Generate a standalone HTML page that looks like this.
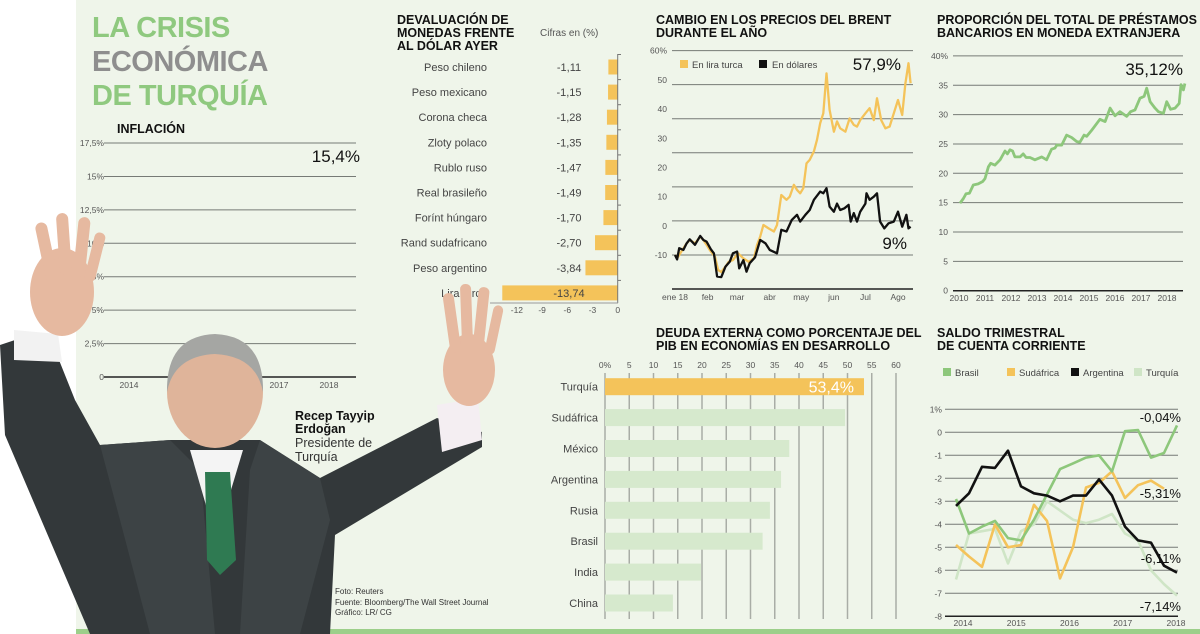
<!DOCTYPE html>
<html><head><meta charset="utf-8"><style>
html,body{margin:0;padding:0;width:1200px;height:634px;overflow:hidden;background:#fff}
svg{display:block;font-family:"Liberation Sans",sans-serif}
.t{font-weight:bold;font-size:12.5px;fill:#111}
.tk{font-size:8.5px;fill:#555}
.lb{font-size:11px;fill:#444}
</style></head><body>
<svg id="s" width="1200" height="634" viewBox="0 0 1200 634" xmlns="http://www.w3.org/2000/svg">
<rect x="76" y="0" width="1124" height="634" fill="#eff5ea"/>
<rect x="76" y="629" width="1124" height="5" fill="#9ccf8a"/>
<g font-weight="bold" font-size="29" letter-spacing="-0.5">
<text x="92" y="37" fill="#8fc97f">LA CRISIS</text>
<text x="92" y="71" fill="#8e8e8e">ECONÓMICA</text>
<text x="92" y="105" fill="#8fc97f">DE TURQUÍA</text>
</g>
<text class="t" x="117" y="133">INFLACIÓN</text>
<g class="t"><text x="397" y="24">DEVALUACIÓN DE</text><text x="397" y="37">MONEDAS FRENTE</text><text x="397" y="50">AL DÓLAR AYER</text></g>
<text x="540" y="36" font-size="10" fill="#555">Cifras en (%)</text>
<g class="t"><text x="656" y="24">CAMBIO EN LOS PRECIOS DEL BRENT</text><text x="656" y="37">DURANTE EL AÑO</text></g>
<g class="t"><text x="937" y="24">PROPORCIÓN DEL TOTAL DE PRÉSTAMOS</text><text x="937" y="37">BANCARIOS EN MONEDA EXTRANJERA</text></g>
<g class="t"><text x="656" y="337">DEUDA EXTERNA COMO PORCENTAJE DEL</text><text x="656" y="350">PIB EN ECONOMÍAS EN DESARROLLO</text></g>
<g class="t"><text x="937" y="337">SALDO TRIMESTRAL</text><text x="937" y="350">DE CUENTA CORRIENTE</text></g>
<g id="charts"></g>
<g id="photo">
<polygon points="0,345 15,340 55,350 75,400 100,445 170,440 260,440 320,478 437,418 482,432 482,447 335,535 330,634 90,634 5,435" fill="#33383a"/>
<polygon points="100,445 170,440 200,470 215,634 150,634 120,520" fill="#3d4345"/>
<polygon points="260,440 320,478 330,520 300,634 240,634 250,470" fill="#3d4345"/>
<polygon points="14,330 58,334 62,362 14,360" fill="#f2f2f2"/>
<polygon points="437,405 478,398 482,440 442,452" fill="#f4eef2"/>
<ellipse cx="62" cy="292" rx="32" ry="44" fill="#e6b9a0"/>
<rect x="40" y="222" width="12" height="62" rx="6" fill="#e6b9a0" transform="rotate(-12 46 250)"/>
<rect x="58" y="213" width="12" height="62" rx="6" fill="#e6b9a0" transform="rotate(-4 64 245)"/>
<rect x="76" y="217" width="12" height="60" rx="6" fill="#e6b9a0" transform="rotate(6 82 245)"/>
<rect x="90" y="232" width="11" height="50" rx="5" fill="#e6b9a0" transform="rotate(14 95 255)"/>
<ellipse cx="469" cy="370" rx="26" ry="36" fill="#e6b9a0"/>
<rect x="446" y="293" width="11" height="60" rx="5" fill="#e6b9a0" transform="rotate(-8 451 320)"/>
<rect x="461" y="284" width="11" height="62" rx="5" fill="#e6b9a0" transform="rotate(-2 466 315)"/>
<rect x="476" y="287" width="11" height="60" rx="5" fill="#e6b9a0" transform="rotate(6 481 315)"/>
<rect x="489" y="305" width="10" height="50" rx="5" fill="#e6b9a0" transform="rotate(12 494 330)"/>
<polygon points="190,450 216,540 243,450" fill="#f4f4f4"/>
<polygon points="205,472 230,472 236,560 220,575 207,560" fill="#2f7a52"/>
<ellipse cx="215" cy="392" rx="48" ry="56" fill="#dfb49a"/>
<path d="M167,392 Q166,336 215,334 Q264,336 263,392 Q256,356 215,354 Q174,356 167,392Z" fill="#a5a6a3"/>
</g>
<g>
<text x="295" y="420" font-weight="bold" font-size="12.5" fill="#111">Recep Tayyip</text>
<text x="295" y="433" font-weight="bold" font-size="12.5" fill="#111">Erdoğan</text>
<text x="295" y="447" font-size="12.5" fill="#333">Presidente de</text>
<text x="295" y="461" font-size="12.5" fill="#333">Turquía</text>
</g>
<g font-size="8" fill="#333">
<text x="335" y="594">Foto: Reuters</text><text x="335" y="605">Fuente: Bloomberg/The Wall Street Journal</text><text x="335" y="615">Gráfico: LR/ CG</text>
</g>
</svg>
<script>
// ---------- Inflation ----------
const inflYears=[13.61,13.69,13.82,13.95,14.02,14.12,14.19,14.29,14.35,14.43,14.52,14.65,14.77,14.92,15.12,15.25,15.42,15.52,15.62,15.69,15.77,15.85,15.95,16.09,16.19,16.35,16.43,16.57,16.75,16.82,16.92,17.02,17.1,17.22,17.32,17.41,17.5,17.59,17.69,17.82,17.92,18.01,18.09,18.25,18.35,18.43,18.47,18.51];
const inflValues=[9.0,8.4,7.95,7.4,7.4,7.9,8.0,8.5,9.4,9.7,9.25,9.5,9.05,9.25,7.3,7.6,8.2,7.4,6.9,7.1,7.9,7.7,8.5,9.6,8.9,6.6,6.6,8.8,7.4,7.3,7.1,8.6,9.25,11.0,11.9,11.8,11.0,9.9,11.0,11.95,13.05,11.9,10.5,10.25,11.0,12.25,14.0,15.5];
const inflTicks=["0","2,5%","5%","7,5%","10%","12,5%","15%","17,5%"];
const inflYearLabels=["2014","2015","2016","2017","2018"];
// ---------- Devaluation ----------
const devCats=["Peso chileno","Peso mexicano","Corona checa","Zloty polaco","Rublo ruso","Real brasileño","Forínt húngaro","Rand sudafricano","Peso argentino","Lira turca"];
const devValues=[-1.11,-1.15,-1.28,-1.35,-1.47,-1.49,-1.70,-2.70,-3.84,-13.74];
const devLabels=["-1,11","-1,15","-1,28","-1,35","-1,47","-1,49","-1,70","-2,70","-3,84","-13,74"];
const devTicks=[-12,-9,-6,-3,0];
// ---------- Brent ----------
const brentLiraDays=[0,2,6,11,14,19,24,27,30,33,38,41,44,48,51,55,60,65,70,75,78,81,84,89,94,97,101,106,109,113,116,119,122,125,128,132,135,138,141,144,147,151,154,157,162,166,170,173,176,181,185,189,192,196,200,204,208,212,216,219,222,224];
const brentLiraValues=[0,-1,1,3.4,4.4,3.4,5.4,4.4,3,1.5,-0.5,-4.4,-5,-3.4,-2,-1.5,0.5,-1,-2,-1,3,5.4,8.8,7.8,6.9,8.8,17.6,16.2,17.1,20.6,19.1,18.1,19.6,26.9,27.9,30.4,33.8,38.7,41.6,53.3,42.6,36.2,39.2,37.2,36.2,40.1,38.2,37.7,39.6,41.6,43.1,39.6,46,39.6,37.2,37.7,41.6,45.5,41.1,50.4,56.3,50.4];
const brentUsdDays=[0,2,4,8,11,14,19,24,27,30,34,37,40,44,48,52,55,59,61,65,68,71,76,81,86,90,97,101,106,111,116,119,124,128,132,138,141,144,147,151,154,157,161,165,167,170,173,176,181,182,185,189,192,195,199,203,208,212,216,220,222,224];
const brentUsdValues=[0,-1.3,2,1.5,3.4,4.6,3,5.6,4.4,3.9,1.7,0.5,-6.3,-6.5,-3.4,-2,0.5,1,-3.9,-1.5,-4.9,-2.4,-0.7,4.4,3.4,1.5,0.5,7.4,6.9,10.3,11.8,9.8,11.8,13.2,16.2,18.6,18.1,19.6,14.2,12.7,15.1,13.2,13.7,14.7,9.8,12.3,9.8,12.7,15.1,18.1,16.2,17.1,18.1,9.8,7.8,9.3,9.8,12.7,8.3,11.8,7.8,8.3];
const brentGrid=[60,50,40,30,20,10,0];
const brentTickLabels=["60%","50","40","30","20","10","0","-10"];
const brentMonths=["ene 18","feb","mar","abr","may","jun","Jul","Ago"];
const brentMonthDays=[0,31,59,90,120,151,181,212];
// ---------- Loans ----------
const loanYears=[10.04,10.17,10.27,10.4,10.55,10.74,10.91,11,11.13,11.22,11.38,11.58,11.77,11.86,11.96,12.06,12.15,12.35,12.47,12.58,12.73,12.92,13.18,13.37,13.56,13.69,13.76,13.95,14.14,14.33,14.53,14.65,14.81,14.91,15.1,15.42,15.62,15.81,16,16.19,16.45,16.6,16.77,16.96,17.12,17.22,17.35,17.54,17.67,17.86,17.99,18.14,18.31,18.47,18.54,18.63,18.69];
const loanValues=[14.9,15.7,16.5,16.6,18.0,18.2,18.6,19.1,21.1,21.7,21.4,22.3,23.8,23.3,24,23.8,22.8,22.8,23.3,22.7,22.7,22.3,22.8,22.3,24.1,24.3,24.8,24.8,26.5,26.1,25.4,25.3,26.5,26.3,27.3,29.2,28.8,31.1,29.8,30.5,29.7,30.5,30.8,32.8,33.1,34.5,32.2,31.1,30.5,30.2,32.2,30.9,31.1,31.9,35.1,34.2,35.3];
const loanTicks=[0,5,10,15,20,25,30,35,40];
const loanYearLabels=["2010","2011","2012","2013","2014","2015","2016","2017","2018"];
// ---------- External debt ----------
const debtCats=["Turquía","Sudáfrica","México","Argentina","Rusia","Brasil","India","China"];
const debtValues=[53.4,49.5,38,36.3,34,32.5,19.8,14];
const debtTicks=[0,5,10,15,20,25,30,35,40,45,50,55,60];
// ---------- Current account ----------
const caBrasil=[-2.9,-4.4,-4.1,-3.85,-4.6,-4.7,-3.8,-2.7,-1.6,-1.35,-1.1,-1.0,-1.7,0.05,0.1,-1.1,-0.9,0.3];
const caSudafrica=[-4.9,-5.4,-5.85,-4.0,-5.0,-4.9,-3.15,-3.85,-6.35,-5.0,-2.4,-2.2,-1.7,-2.85,-2.3,-2.1,-2.45];
const caArgentina=[-3.2,-2.65,-1.5,-1.55,-0.8,-2.35,-2.65,-2.75,-3.0,-2.75,-2.75,-2.05,-2.75,-4.1,-4.7,-4.8,-5.8,-6.1];
const caTurquia=[-6.4,-4.4,-4.3,-4.2,-5.7,-4.3,-4.0,-3.0,-3.4,-3.8,-3.95,-3.8,-3.55,-4.4,-4.7,-6.0,-6.6,-7.1];
const caTicks=[1,0,-1,-2,-3,-4,-5,-6,-7,-8];
const caTickLabels=["1%","0","-1","-2","-3","-4","-5","-6","-7","-8"];
const caYearLabels=["2014","2015","2016","2017","2018"];

const NS="http://www.w3.org/2000/svg";
const root=document.getElementById('charts');
function el(tag,attrs,parent){const e=document.createElementNS(NS,tag);for(const k in attrs)e.setAttribute(k,attrs[k]);(parent||root).appendChild(e);return e;}
function txt(s,attrs,parent){const e=el('text',attrs,parent);e.textContent=s;return e;}
function grp(parent){return el('g',{},parent);}
function pathFrom(xs,ys,fx,fy){return xs.map((x,i)=>(i?'L':'M')+fx(x).toFixed(1)+','+fy(ys[i]).toFixed(1)).join(' ');}
const GREEN="#8dc77b",YEL="#f4c35a",GRID="#767a76";

// Inflation
(function(){
 const g=grp();
 
 
 const fy=v=>377-v*13.37, fx=y=>129+(y-14)*50;
 inflTicks.forEach((t,i)=>{const v=i*2.5;
  const l=el('line',{x1:104,x2:356,y1:fy(v),y2:fy(v),stroke:i==0?'#222':GRID,'stroke-width':i==0?1.5:1},g);
  
  
  const tt=txt(t,{x:104,y:fy(v)+3,'text-anchor':'end',class:'tk'},g);
  
  });
 inflYearLabels.forEach((t,i)=>{const tt=txt(t,{x:fx(14+i),y:388,'text-anchor':'middle',class:'tk'},g);
  
  });
 const p=el('path',{d:pathFrom(inflYears,inflValues,v=>fx(2000+v),fy),fill:'none',stroke:GREEN,'stroke-width':2.8,'stroke-linejoin':'round'},g);
 
 
 const lv=txt('15,4%',{x:360,y:162,'text-anchor':'end','font-size':17,fill:'#111'},g);
 
 
})();

// Devaluation
(function(){
 const g=grp();
 
 
 const fx=v=>617.7+v*8.4, fy=i=>67+i*25.1;
 devCats.forEach((c,i)=>{
  const w=-devValues[i]*8.4;
  const r=el('rect',{x:fx(devValues[i]),y:fy(i)-7.5,width:w,height:15,fill:YEL},g);
  
  
  const l=txt(c,{x:487,y:fy(i)+4,'text-anchor':'end',class:'lb'},g);
  
  
  const v=txt(devLabels[i],{x:569,y:fy(i)+4,'text-anchor':'middle',class:'lb'},g);
  
  
  const tk=el('line',{x1:617.7,x2:621,y1:fy(i)-12.5,y2:fy(i)-12.5,stroke:'#777'},g);
  
  
 });
 const ax=el('line',{x1:617.7,x2:617.7,y1:54,y2:303,stroke:'#777'},g);
 
 
 const bx=el('line',{x1:490,x2:618,y1:303,y2:303,stroke:'#999'},g);
 
 
 devTicks.forEach(t=>{const tt=txt(String(t),{x:fx(t),y:313,'text-anchor':'middle',class:'tk'},g);
  
  });
})();

// Brent
(function(){
 const g=grp();
 
 
 const fy=v=>255-v*3.407, fx=d=>675+d*1.052, ly=v=>50.7+(60-v)*2.92;
 brentGrid.forEach(v=>{const l=el('line',{x1:672,x2:913,y1:fy(v),y2:fy(v),stroke:GRID,'stroke-width':1},g);
  
  });
 brentTickLabels.forEach((t,i)=>{const tt=txt(t,{x:667,y:ly(60-i*10)+3,'text-anchor':'end',class:'tk'},g);
  
  });
 const ax=el('line',{x1:672,x2:913,y1:289,y2:289,stroke:'#222','stroke-width':1.5},g);
 
 
 brentMonths.forEach((m,i)=>{const tt=txt(m,{x:fx(brentMonthDays[i]),y:300,'text-anchor':'middle',class:'tk'},g);
  
  });
 const p1=el('path',{d:pathFrom(brentLiraDays,brentLiraValues,fx,fy),fill:'none',stroke:YEL,'stroke-width':2.3,'stroke-linejoin':'round'},g);
 
 
 const p2=el('path',{d:pathFrom(brentUsdDays,brentUsdValues,fx,fy),fill:'none',stroke:'#111','stroke-width':2.3,'stroke-linejoin':'round'},g);
 
 
 const s1=el('rect',{x:680,y:60,width:8,height:8,fill:YEL},g);
 
 
 const t1=txt('En lira turca',{x:692,y:68,'font-size':9.5,fill:'#444'},g);
 
 
 const s2=el('rect',{x:759,y:60,width:8,height:8,fill:'#111'},g);
 
 
 const t2=txt('En dólares',{x:772,y:68,'font-size':9.5,fill:'#444'},g);
 
 
 const a=txt('57,9%',{x:901,y:70,'text-anchor':'end','font-size':17,fill:'#111'},g);
 
 
 const b=txt('9%',{x:907,y:249,'text-anchor':'end','font-size':17,fill:'#111'},g);
 
 
})();

// Loans
(function(){
 const g=grp();
 
 
 const fy=v=>290.7-v*5.87, fx=y=>959+(y-2010)*26;
 loanTicks.forEach(v=>{const l=el('line',{x1:953,x2:1183,y1:fy(v),y2:fy(v),stroke:v==0?'#222':GRID,'stroke-width':v==0?1.5:1},g);
  
  
  const tt=txt(v==40?'40%':String(v),{x:948,y:fy(v)+3,'text-anchor':'end',class:'tk'},g);
  
  });
 loanYearLabels.forEach((t,i)=>{const tt=txt(t,{x:fx(2010+i),y:301,'text-anchor':'middle',class:'tk'},g);
  
  });
 const p=el('path',{d:pathFrom(loanYears,loanValues,v=>fx(2000+v),fy),fill:'none',stroke:GREEN,'stroke-width':2.8,'stroke-linejoin':'round'},g);
 
 
 const lv=txt('35,12%',{x:1183,y:75,'text-anchor':'end','font-size':17,fill:'#111'},g);
 
 
})();

// External debt
(function(){
 const g=grp();
 
 
 const fx=v=>605+v*4.85, fy=i=>386.7+i*30.9;
 debtTicks.forEach(t=>{
  const l=el('line',{x1:fx(t),x2:fx(t),y1:373,y2:619,stroke:'#a9ada6','stroke-width':1.5},g);
  
  
  const tt=txt(t==0?'0%':String(t),{x:fx(t),y:368,'text-anchor':'middle',class:'tk'},g);
  
  });
 debtCats.forEach((c,i)=>{
  const r=el('rect',{x:fx(0),y:fy(i)-8.5,width:debtValues[i]*4.85,height:17,fill:i==0?YEL:'#d6e9cd'},g);
  
  
  const l=txt(c,{x:598,y:fy(i)+4,'text-anchor':'end',class:'lb'},g);
  
  
 });
 const v=txt('53,4%',{x:fx(debtValues[0])-10,y:fy(0)+6,'text-anchor':'end','font-size':16,fill:'#fff'},g);
 
 
})();

// Current account
(function(){
 const g=grp();
 
 
 const fy=v=>432.3-v*23, fx=i=>956+i*13.0, yx=y=>963+(y-2014)*53.25;
 caTicks.forEach((v,i)=>{const l=el('line',{x1:945,x2:1178,y1:fy(v),y2:fy(v),stroke:v==-8?'#222':GRID,'stroke-width':v==-8?1.5:1},g);
  
  
  const tt=txt(caTickLabels[i],{x:942,y:fy(v)+3,'text-anchor':'end',class:'tk'},g);
  
  });
 caYearLabels.forEach((t,i)=>{const tt=txt(t,{x:yx(2014+i),y:626,'text-anchor':'middle',class:'tk'},g);
  
  });
 const series=[[caTurquia,'#cfe5c6','ca-turquia-line'],[caSudafrica,YEL,'ca-sudafrica-line'],[caBrasil,GREEN,'ca-brasil-line'],[caArgentina,'#111','ca-argentina-line']];
 series.forEach(s=>{const p=el('path',{d:pathFrom(s[0].map((_,i)=>i),s[0],fx,fy),fill:'none',stroke:s[1],'stroke-width':2.6,'stroke-linejoin':'round'},g);
  
  });
 const leg=[['Brasil',GREEN,943],['Sudáfrica',YEL,1007],['Argentina','#111',1071],['Turquía','#cfe5c6',1134]];
 leg.forEach(l=>{const r=el('rect',{x:l[2],y:368,width:8,height:8,fill:l[1]},g);
  
  
  const t=txt(l[0],{x:l[2]+12,y:376,'font-size':9.5,fill:'#444'},g);
  
  });
 [['-0,04%',422],['-5,31%',498],['-6,11%',563],['-7,14%',611]].forEach(a=>{const t=txt(a[0],{x:1181,y:a[1],'text-anchor':'end','font-size':13,fill:'#111'},g);
  
  });
})();
</script>
</body></html>
